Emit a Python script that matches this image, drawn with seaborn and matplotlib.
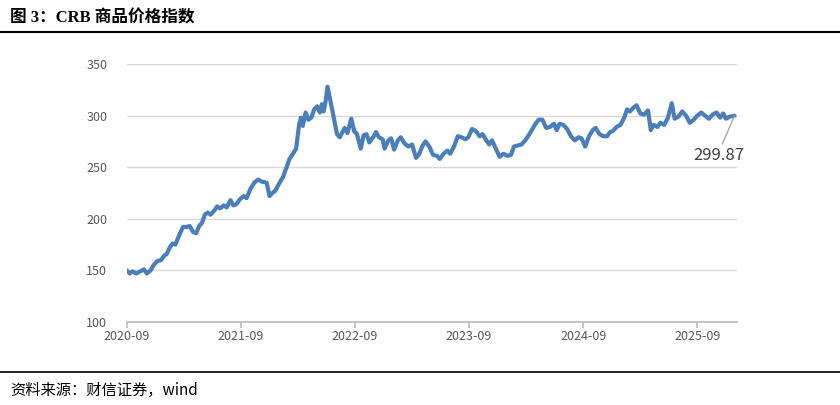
import pandas as pd
import matplotlib
matplotlib.use("Agg")
import matplotlib.pyplot as plt
import seaborn as sns
from matplotlib.lines import Line2D

# (months since 2020-09, index value)
readings = [
    (0, 150), (0.3, 147), (0.6, 149), (1.0, 147), (1.4, 149), (1.8, 151), (2.1, 147), (2.5, 150), (2.8, 155),
    (3.2, 159), (3.6, 160), (3.9, 164), (4.2, 166), (4.5, 172), (4.8, 176), (5.1, 175), (5.6, 186), (5.9, 192),
    (6.3, 192), (6.6, 193), (7.0, 187), (7.3, 186), (7.6, 193), (7.9, 196), (8.2, 204), (8.5, 206), (8.8, 204),
    (9.2, 208), (9.5, 212), (9.8, 210), (10.2, 213), (10.5, 211), (10.9, 218), (11.2, 213), (11.5, 214),
    (11.9, 219), (12.3, 222), (12.6, 220), (13.0, 229), (13.4, 235), (13.8, 238), (14.2, 236), (14.7, 235),
    (15.0, 222), (15.3, 225), (15.6, 227), (16.0, 234), (16.4, 240), (16.8, 250), (17.1, 258), (17.4, 262),
    (17.8, 268), (18.1, 290), (18.3, 298), (18.5, 290), (18.8, 303), (19.1, 296), (19.4, 298), (19.7, 306),
    (20.0, 309), (20.3, 303), (20.5, 311), (20.7, 304), (20.9, 314), (21.1, 328), (21.5, 310), (22.1, 282),
    (22.4, 279), (22.9, 288), (23.2, 283), (23.6, 297), (23.9, 285), (24.2, 282), (24.6, 268), (24.9, 281),
    (25.2, 282), (25.5, 274), (25.9, 279), (26.2, 284), (26.5, 279), (26.9, 277), (27.1, 268), (27.5, 276),
    (27.8, 278), (28.1, 267), (28.5, 276), (28.8, 279), (29.2, 273), (29.6, 270), (30.0, 272), (30.4, 259),
    (30.7, 262), (31.1, 271), (31.4, 275), (31.8, 270), (32.2, 262), (32.6, 261), (32.9, 258), (33.3, 263),
    (33.7, 266), (34.0, 263), (34.4, 270), (34.8, 280), (35.2, 279), (35.6, 277), (35.9, 279), (36.3, 287),
    (36.7, 285), (37.1, 280), (37.4, 282), (37.8, 276), (38.1, 272), (38.4, 276), (38.8, 268), (39.2, 260),
    (39.6, 263), (40.0, 261), (40.4, 262), (40.7, 270), (41.1, 271), (41.5, 272), (41.9, 276), (42.4, 283),
    (42.9, 291), (43.3, 296), (43.7, 296), (44.1, 288), (44.5, 289), (44.9, 292), (45.2, 286), (45.5, 292),
    (45.9, 291), (46.3, 287), (46.7, 280), (47.1, 276), (47.5, 279), (47.8, 278), (48.2, 270), (48.6, 280),
    (49.0, 286), (49.3, 288), (49.7, 282), (50.1, 280), (50.5, 280), (50.8, 284), (51.1, 285), (51.5, 289),
    (51.9, 291), (52.3, 298), (52.6, 306), (52.9, 304), (53.3, 308), (53.6, 310), (54.0, 302), (54.4, 301),
    (54.8, 305), (55.1, 286), (55.4, 291), (55.8, 289), (56.1, 293), (56.5, 291), (56.9, 298), (57.3, 312),
    (57.6, 297), (58.0, 299), (58.4, 304), (58.8, 300), (59.2, 293), (59.6, 296), (60.0, 300), (60.4, 303),
    (60.8, 300), (61.2, 297), (61.6, 301), (62.0, 303), (62.4, 298), (62.7, 302), (63.0, 297), (63.4, 299),
    (63.9, 299.87),
]
month_offset = [m for m, _ in readings]
crb_index = [v for _, v in readings]

x_ticks = ["2020-09", "2021-09", "2022-09", "2023-09", "2024-09", "2025-09"]

start = pd.Timestamp("2020-09-01")
dates = [start + pd.Timedelta(days=m * 30.44) for m in month_offset]
df = pd.DataFrame({"date": dates, "value": crb_index})

sns.set_theme(style="white")
plt.rcParams["font.family"] = ["Noto Sans CJK SC", "DejaVu Sans"]

fig = plt.figure(figsize=(8.4, 4.05), dpi=100)
ax = fig.add_axes([0.151, 0.205, 0.726, 0.637])

sns.lineplot(data=df, x="date", y="value", ax=ax, color="#4a7ebb", linewidth=3)

ax.set_ylim(100, 350)
ax.set_yticks(range(100, 351, 50))
ax.set_xlim(start, pd.Timestamp("2026-01-05"))
ax.set_xticks([pd.Timestamp(t + "-01") for t in x_ticks])
ax.set_xticklabels(x_ticks)
ax.grid(axis="y", color="#d9d9d9", linewidth=1)
for s in ["top", "right", "left"]:
    ax.spines[s].set_visible(False)
ax.spines["bottom"].set_color("#bfbfbf")
ax.tick_params(axis="x", bottom=True, length=4, color="#bfbfbf", labelsize=9, labelcolor="#595959", pad=2)
ax.tick_params(axis="y", left=False, labelsize=9, labelcolor="#595959", pad=8)
ax.set_xlabel("")
ax.set_ylabel("")

# last value label
ax.annotate("299.87", xy=(df["date"].iloc[-1], 299.87), xytext=(-30, -32), textcoords="offset points",
            fontsize=12, color="#404040",
            arrowprops=dict(arrowstyle="-", color="#a6a6a6", lw=1, shrinkA=0, shrinkB=0,
                            relpos=(0.55, 1.0)))

fig.text(0.012, 0.955, "图 3：CRB 商品价格指数", fontsize=12, fontweight="bold", color="black", va="center",
         family=["Liberation Serif", "Noto Sans CJK SC"])
fig.add_artist(Line2D([0.0, 1.0], [0.922, 0.922], color="black", linewidth=1.5))
fig.add_artist(Line2D([0.0, 1.0], [0.082, 0.082], color="black", linewidth=1.2))
fig.text(0.012, 0.035, "资料来源：财信证券，wind", fontsize=11, style="italic", color="black", va="center")

fig.savefig("out.png", dpi=100)
